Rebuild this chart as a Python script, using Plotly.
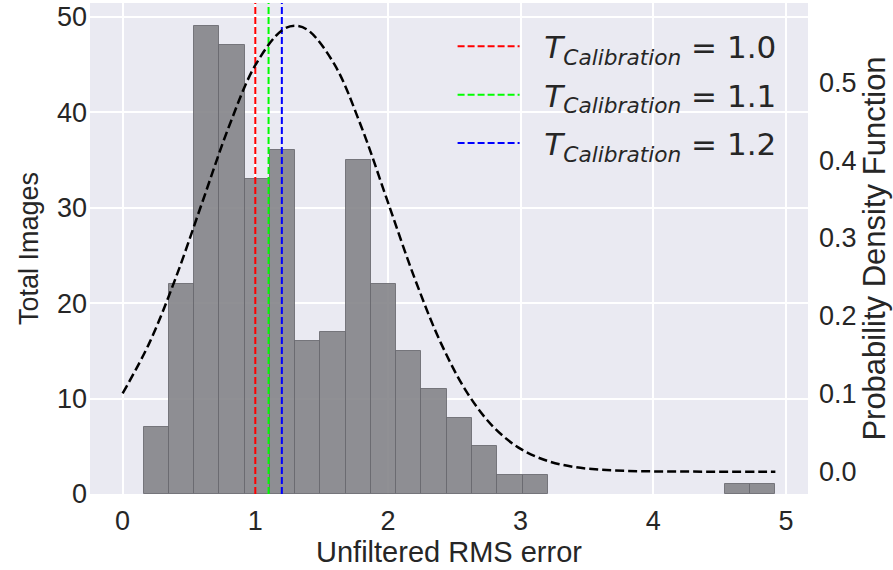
import plotly.graph_objects as go

# ---- data ----
bin_start = 0.158
bin_width = 0.1904
counts = [7, 22, 49, 47, 33, 36, 16, 17, 35, 22, 15, 11, 8, 5, 2, 2,
          0, 0, 0, 0, 0, 0, 0, 1, 1]

pdf_x = [0.0, 0.2, 0.4, 0.6, 0.8, 1.0, 1.2, 1.3, 1.4, 1.6, 1.8, 2.0, 2.2,
         2.4, 2.6, 2.8, 3.0, 3.2, 3.4, 3.6, 3.8, 4.0, 4.2, 4.4, 4.6, 4.8, 4.92]
pdf_y = [0.1005, 0.1647, 0.2487, 0.3457, 0.4425, 0.5218, 0.5665, 0.5724,
         0.5665, 0.5218, 0.4425, 0.3457, 0.2487, 0.1647, 0.1005, 0.0565,
         0.0292, 0.0139, 0.0061, 0.0025, 0.0009, 0.0003, 0.0001, 0.0, 0.0,
         0.0, 0.0]

calib_values = [1.0, 1.1, 1.2]
calib_labels = ["1.0", "1.1", "1.2"]
calib_colors = ["#ff0000", "#00ff00", "#0000ff"]

x_ticks = [0, 1, 2, 3, 4, 5]
y_ticks = [0, 10, 20, 30, 40, 50]
pdf_ticks = [0.0, 0.1, 0.2, 0.3, 0.4, 0.5]

x_range = [-0.246, 5.166]
y_range = [0, 51.45]
pdf_range = [-0.0287, 0.6017]

TEXT = "#262626"
FAM = "Liberation Sans, Arial, sans-serif"
TICK_FONT = dict(family=FAM, size=27, color=TEXT)

fig = go.Figure()

# histogram bars (skip empty bins)
centers = [bin_start + (i + 0.5) * bin_width for i in range(len(counts))]
bx = [c for c, n in zip(centers, counts) if n > 0]
by = [n for n in counts if n > 0]
fig.add_trace(go.Bar(
    x=bx, y=by, width=bin_width,
    marker=dict(color="rgba(128,128,132,0.87)",
                line=dict(color="rgba(105,105,110,0.85)", width=1)),
    showlegend=False, hoverinfo="skip"))

# calibration vertical lines
for v, lab, col in zip(calib_values, calib_labels, calib_colors):
    fig.add_trace(go.Scatter(
        x=[v, v], y=y_range, mode="lines",
        line=dict(color=col, width=2, dash="7px,3px"),
        name="&nbsp;&nbsp;<i>T</i><sub><i>Calibration</i></sub> = " + lab,
        legendgroup=lab))

# PDF curve on secondary axis
fig.add_trace(go.Scatter(
    x=pdf_x, y=pdf_y, mode="lines", yaxis="y2",
    line=dict(color="black", width=2.5, dash="9px,4px", shape="spline"),
    showlegend=False, hoverinfo="skip"))

fig.update_layout(
    width=893, height=570,
    margin=dict(l=90, r=85, t=3, b=76),
    paper_bgcolor="white", plot_bgcolor="#EAEAF2",
    bargap=0,
    xaxis=dict(range=x_range, tickvals=x_ticks, showgrid=True,
               gridcolor="white", gridwidth=1.5, zeroline=False,
               tickfont=TICK_FONT, ticks="", ticklabelstandoff=8,
               title=dict(text="Unfiltered RMS error",
                          font=dict(family=FAM, size=29, color=TEXT), standoff=6)),
    yaxis=dict(range=y_range, tickvals=y_ticks, showgrid=True,
               gridcolor="white", gridwidth=1.5, zeroline=False,
               tickfont=TICK_FONT, ticks="", ticklabelstandoff=2,
               title=dict(text="Total Images",
                          font=dict(family=FAM, size=27, color=TEXT), standoff=10)),
    yaxis2=dict(range=pdf_range, tickvals=pdf_ticks, overlaying="y", side="right",
                showgrid=False, zeroline=False, tickfont=TICK_FONT,
                tickformat=".1f", ticks="", ticklabelstandoff=10,
                title=dict(text="Probability Density Function",
                           font=dict(family=FAM, size=31, color=TEXT), standoff=2)),
    legend=dict(x=0.505, y=0.966, xanchor="left", yanchor="top",
                bgcolor="rgba(0,0,0,0)", tracegroupgap=5,
                font=dict(family="DejaVu Sans", size=31, color=TEXT),
                itemwidth=62),
    showlegend=True,
)

fig.write_html("out.html")
